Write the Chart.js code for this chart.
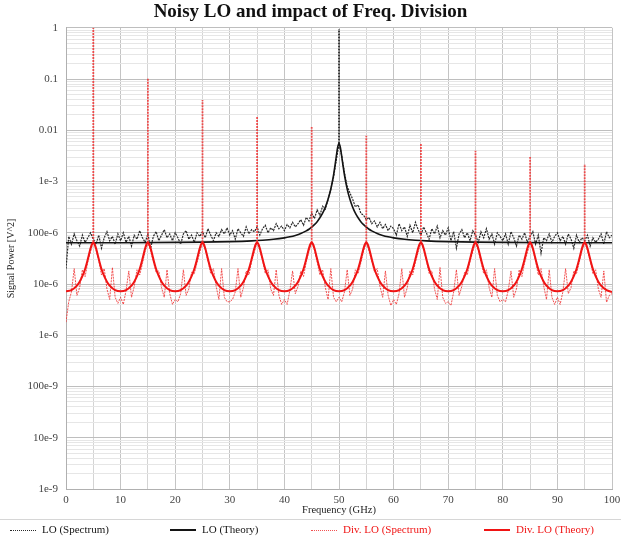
<!DOCTYPE html>
<html>
<head>
<meta charset="utf-8">
<script src="https://cdn.jsdelivr.net/npm/chart.js@4.4.1/dist/chart.umd.min.js"></script>
<style>
  html, body { margin: 0; padding: 0; background: #fff; }
  #wrap { position: relative; width: 621px; height: 537px; }
  #legend {
    position: absolute; left: 0; top: 519px; width: 621px; height: 18px;
    border-top: 1px solid #d6d6d6;
    font-family: "Liberation Serif", "DejaVu Serif", serif; font-size: 11px;
  }
  #legend .item { position: absolute; top: 3px; white-space: nowrap; line-height: 12px; }
  #legend .swatch { display: inline-block; width: 26px; vertical-align: middle; margin-right: 6px; }
</style>
</head>
<body>
<div id="wrap"><canvas id="noiseChart"></canvas><div id="legend"></div></div>
<script>
// sample frequencies of the measured spectra (GHz)
const spectrumFreq = [
  0, 0.5, 1, 1.5, 2, 2.5, 3, 3.5, 4, 4.5,
  5, 5.5, 6, 6.5, 7, 7.5, 8, 8.5, 9, 9.5,
  10, 10.5, 11, 11.5, 12, 12.5, 13, 13.5, 14, 14.5,
  15, 15.5, 16, 16.5, 17, 17.5, 18, 18.5, 19, 19.5,
  20, 20.5, 21, 21.5, 22, 22.5, 23, 23.5, 24, 24.5,
  25, 25.5, 26, 26.5, 27, 27.5, 28, 28.5, 29, 29.5,
  30, 30.5, 31, 31.5, 32, 32.5, 33, 33.5, 34, 34.5,
  35, 35.5, 36, 36.5, 37, 37.5, 38, 38.5, 39, 39.5,
  40, 40.5, 41, 41.5, 42, 42.5, 43, 43.5, 44, 44.5,
  45, 45.5, 46, 46.5, 47, 47.5, 48, 48.5, 49, 49.5,
  50, 50.5, 51, 51.5, 52, 52.5, 53, 53.5, 54, 54.5,
  55, 55.5, 56, 56.5, 57, 57.5, 58, 58.5, 59, 59.5,
  60, 60.5, 61, 61.5, 62, 62.5, 63, 63.5, 64, 64.5,
  65, 65.5, 66, 66.5, 67, 67.5, 68, 68.5, 69, 69.5,
  70, 70.5, 71, 71.5, 72, 72.5, 73, 73.5, 74, 74.5,
  75, 75.5, 76, 76.5, 77, 77.5, 78, 78.5, 79, 79.5,
  80, 80.5, 81, 81.5, 82, 82.5, 83, 83.5, 84, 84.5,
  85, 85.5, 86, 86.5, 87, 87.5, 88, 88.5, 89, 89.5,
  90, 90.5, 91, 91.5, 92, 92.5, 93, 93.5, 94, 94.5,
  95, 95.5, 96, 96.5, 97, 97.5, 98, 98.5, 99, 99.5,
  100
];

// LO (Spectrum) - black dotted
const loSpectrum = [
  2e-5, 8.5e-5, 6e-5, 9.5e-5, 7e-5, 5.5e-5, 9e-5, 6.5e-5, 8e-5, 1e-4,
  7.5e-5, 6e-5, 9e-5, 5e-5, 8e-5, 1.05e-4, 7e-5, 8.5e-5, 6e-5, 9.5e-5,
  7e-5, 1e-4, 6.5e-5, 8.5e-5, 5.5e-5, 9e-5, 7.5e-5, 1.1e-4, 8e-5, 6.5e-5,
  9.5e-5, 5e-5, 8.5e-5, 1.05e-4, 7e-5, 9e-5, 1.15e-4, 8e-5, 9.5e-5, 7e-5,
  1e-4, 8e-5, 6e-5, 9.5e-5, 1.1e-4, 7.5e-5, 9e-5, 6.5e-5, 1e-4, 8.5e-5,
  1.05e-4, 8e-5, 1.2e-4, 9e-5, 7e-5, 1e-4, 8.5e-5, 1.15e-4, 9.5e-5, 1.25e-4,
  9e-5, 1.1e-4, 7.5e-5, 1.2e-4, 1e-4, 8.5e-5, 1.3e-4, 9.5e-5, 1.15e-4, 1.05e-4,
  1.3e-4, 9e-5, 1.2e-4, 1.4e-4, 1e-4, 1.25e-4, 1.1e-4, 1.5e-4, 1.2e-4, 1.35e-4,
  1.1e-4, 1.45e-4, 1.25e-4, 1.6e-4, 1.3e-4, 1.5e-4, 1.8e-4, 1.4e-4, 2e-4, 1.7e-4,
  2.4e-4, 1.9e-4, 2.8e-4, 2.2e-4, 3.3e-4, 2.9e-4, 4.5e-4, 7e-4, 1.2e-3, 2.6e-3,
  5.5e-3, 3.2e-3, 1.5e-3, 8e-4, 6e-4, 4.5e-4, 3.2e-4, 3.5e-4, 2.4e-4, 2.2e-4,
  1.8e-4, 2e-4, 1.5e-4, 1.7e-4, 1.3e-4, 1.6e-4, 1.2e-4, 1.45e-4, 1.1e-4, 1.35e-4,
  1.2e-4, 9e-5, 1.5e-4, 1.1e-4, 1.3e-4, 8.5e-5, 1.4e-4, 1e-4, 1.6e-4, 1.15e-4,
  9e-5, 1.3e-4, 1e-4, 7.5e-5, 1.2e-4, 9.5e-5, 1.35e-4, 8e-5, 1.1e-4, 9e-5,
  1.25e-4, 7e-5, 1.05e-4, 5e-5, 9.5e-5, 1.15e-4, 8e-5, 1e-4, 7e-5, 1.1e-4,
  9e-5, 6.5e-5, 1.05e-4, 8e-5, 1.2e-4, 7.5e-5, 9.5e-5, 6e-5, 1e-4, 8.5e-5,
  7e-5, 9.5e-5, 6e-5, 1.05e-4, 8e-5, 5.5e-5, 9e-5, 7.5e-5, 1e-4, 6.5e-5,
  8.5e-5, 1.05e-4, 6e-5, 9e-5, 4e-5, 8e-5, 7e-5, 9.5e-5, 6.5e-5, 8.5e-5,
  1e-4, 7e-5, 8.5e-5, 6e-5, 9.5e-5, 7.5e-5, 5e-5, 9e-5, 6.5e-5, 8e-5,
  7e-5, 9e-5, 5.5e-5, 8e-5, 6.5e-5, 7.5e-5, 9.5e-5, 6e-5, 1.05e-4, 8e-5,
  9e-5
];

// Div. LO (Spectrum) - red dotted
const divSpectrum = [
  1.8e-6, 4.5e-6, 7e-6, 2e-5, 6e-6, 8.5e-6, 1.9e-5, 1.4e-5, 2.7e-5, 4.3e-5,
  6.6e-5, 4.6e-5, 2.9e-5, 1.5e-5, 2e-5, 8e-6, 5e-6, 2.1e-5, 5.5e-6, 4.2e-6,
  5.5e-6, 4e-6, 7.5e-6, 1.8e-5, 5.5e-6, 9e-6, 1.9e-5, 1.5e-5, 2.5e-5, 4.4e-5,
  6.4e-5, 4.4e-5, 2.7e-5, 1.7e-5, 1.8e-5, 8.5e-6, 5.5e-6, 1.9e-5, 6.5e-6, 4e-6,
  5e-6, 4.5e-6, 6.5e-6, 1.9e-5, 6e-6, 8e-6, 1.7e-5, 1.6e-5, 2.6e-5, 4.1e-5,
  6.5e-5, 4.7e-5, 2.8e-5, 1.6e-5, 2e-5, 9e-6, 5e-6, 2e-5, 5.5e-6, 4.5e-6,
  4.5e-6, 5e-6, 7e-6, 2e-5, 5.5e-6, 8.5e-6, 1.8e-5, 1.5e-5, 2.8e-5, 4.2e-5,
  6.6e-5, 4.5e-5, 2.9e-5, 1.6e-5, 1.9e-5, 8e-6, 6e-6, 1.9e-5, 6e-6, 4e-6,
  5e-6, 4e-6, 7.5e-6, 1.8e-5, 6.5e-6, 9e-6, 1.8e-5, 1.4e-5, 2.7e-5, 4.3e-5,
  6.4e-5, 4.6e-5, 2.7e-5, 1.5e-5, 1.9e-5, 8.5e-6, 5e-6, 2e-5, 5.5e-6, 4.5e-6,
  5.5e-6, 4.5e-6, 7e-6, 1.9e-5, 6e-6, 8e-6, 1.9e-5, 1.6e-5, 2.6e-5, 4.4e-5,
  6.5e-5, 4.4e-5, 2.8e-5, 1.7e-5, 2e-5, 9e-6, 5.5e-6, 1.8e-5, 6e-6, 3.8e-6,
  5e-6, 4e-6, 6.5e-6, 2e-5, 5.5e-6, 8.5e-6, 1.8e-5, 1.5e-5, 2.7e-5, 4.2e-5,
  6.6e-5, 4.6e-5, 2.9e-5, 1.6e-5, 1.8e-5, 8e-6, 5e-6, 2.1e-5, 5.5e-6, 4.2e-6,
  4.5e-6, 3.8e-6, 7e-6, 1.9e-5, 6e-6, 9e-6, 1.7e-5, 1.5e-5, 2.8e-5, 4.3e-5,
  6.5e-5, 4.5e-5, 2.7e-5, 1.6e-5, 1.9e-5, 8.5e-6, 5.5e-6, 2e-5, 6e-6, 4.5e-6,
  5e-6, 4.5e-6, 7.5e-6, 1.8e-5, 5.5e-6, 8e-6, 1.9e-5, 1.4e-5, 2.6e-5, 4.1e-5,
  6.4e-5, 4.7e-5, 2.8e-5, 1.5e-5, 2e-5, 9e-6, 5e-6, 1.9e-5, 5.5e-6, 4e-6,
  5.5e-6, 4e-6, 7e-6, 2e-5, 6.5e-6, 8.5e-6, 1.8e-5, 1.6e-5, 2.7e-5, 4.4e-5,
  6.5e-5, 4.5e-5, 2.9e-5, 1.6e-5, 1.9e-5, 8e-6, 5.5e-6, 1.8e-5, 4.4e-6, 6e-6,
  6.5e-6
];

// carrier spikes sitting on the spectra
const loSpikeFreq = [50];
const loSpikeTop = [0.95];
const divSpikeFreq = [5, 15, 25, 35, 45, 55, 65, 75, 85, 95];
const divSpikeTop = [1.0, 0.106, 0.039, 0.019, 0.0116, 0.0078, 0.0055, 0.004, 0.003, 0.0022];

// LO (Theory) - black solid
const loTheoryFreq = [
  0, 10, 20, 25, 30, 34, 36, 38, 40, 41, 42, 43, 44, 44.5, 45, 45.5, 46, 46.5, 47, 47.5,
  48, 48.5, 49, 49.25, 49.5, 49.75, 50,
  50.25, 50.5, 50.75, 51, 51.5, 52, 52.5, 53, 53.5, 54, 54.5, 55, 55.5, 56, 57, 58, 59,
  60, 62, 64, 66, 70, 75, 80, 90, 100
];
const loTheory = [
  6.37e-5, 6.4e-5, 6.49e-5, 6.57e-5, 6.72e-5, 6.95e-5, 7.15e-5, 7.45e-5, 7.96e-5, 8.35e-5,
  8.89e-5, 9.67e-5, 1.09e-4, 1.17e-4, 1.29e-4, 1.44e-4, 1.65e-4, 1.96e-4, 2.42e-4, 3.17e-4,
  4.5e-4, 7.15e-4, 1.34e-3, 1.99e-3, 3.08e-3, 4.62e-3, 5.56e-3,
  4.62e-3, 3.08e-3, 1.99e-3, 1.34e-3, 7.15e-4, 4.5e-4, 3.17e-4, 2.42e-4, 1.96e-4, 1.65e-4,
  1.44e-4, 1.29e-4, 1.17e-4, 1.09e-4, 9.67e-5, 8.89e-5, 8.35e-5,
  7.96e-5, 7.45e-5, 7.15e-5, 6.95e-5, 6.72e-5, 6.57e-5, 6.49e-5, 6.4e-5, 6.37e-5
];

// Div. LO (Theory) - red solid
const divTheoryFreq = [
  0, 1, 2, 2.5, 3, 3.5, 4, 4.25, 4.5, 4.75, 5, 5.25, 5.5, 5.75, 6, 6.5, 7, 7.5, 8, 9,
  10, 11, 12, 12.5, 13, 13.5, 14, 14.25, 14.5, 14.75, 15, 15.25, 15.5, 15.75, 16, 16.5, 17, 17.5, 18, 19,
  20, 21, 22, 22.5, 23, 23.5, 24, 24.25, 24.5, 24.75, 25, 25.25, 25.5, 25.75, 26, 26.5, 27, 27.5, 28, 29,
  30, 31, 32, 32.5, 33, 33.5, 34, 34.25, 34.5, 34.75, 35, 35.25, 35.5, 35.75, 36, 36.5, 37, 37.5, 38, 39,
  40, 41, 42, 42.5, 43, 43.5, 44, 44.25, 44.5, 44.75, 45, 45.25, 45.5, 45.75, 46, 46.5, 47, 47.5, 48, 49,
  50, 51, 52, 52.5, 53, 53.5, 54, 54.25, 54.5, 54.75, 55, 55.25, 55.5, 55.75, 56, 56.5, 57, 57.5, 58, 59,
  60, 61, 62, 62.5, 63, 63.5, 64, 64.25, 64.5, 64.75, 65, 65.25, 65.5, 65.75, 66, 66.5, 67, 67.5, 68, 69,
  70, 71, 72, 72.5, 73, 73.5, 74, 74.25, 74.5, 74.75, 75, 75.25, 75.5, 75.75, 76, 76.5, 77, 77.5, 78, 79,
  80, 81, 82, 82.5, 83, 83.5, 84, 84.25, 84.5, 84.75, 85, 85.25, 85.5, 85.75, 86, 86.5, 87, 87.5, 88, 89,
  90, 91, 92, 92.5, 93, 93.5, 94, 94.25, 94.5, 94.75, 95, 95.25, 95.5, 95.75, 96, 96.5, 97, 97.5, 98, 99,
  100
];
const divTheory = [
  7.2e-6, 7.6e-6, 9.3e-6, 1.11e-5, 1.42e-5, 1.97e-5, 3.07e-5, 3.93e-5, 4.97e-5, 5.96e-5, 6.44e-5, 5.96e-5, 4.97e-5, 3.93e-5, 3.07e-5, 1.97e-5, 1.42e-5, 1.11e-5, 9.3e-6, 7.6e-6,
  7.2e-6, 7.6e-6, 9.3e-6, 1.11e-5, 1.42e-5, 1.97e-5, 3.07e-5, 3.93e-5, 4.97e-5, 5.96e-5, 6.44e-5, 5.96e-5, 4.97e-5, 3.93e-5, 3.07e-5, 1.97e-5, 1.42e-5, 1.11e-5, 9.3e-6, 7.6e-6,
  7.2e-6, 7.6e-6, 9.3e-6, 1.11e-5, 1.42e-5, 1.97e-5, 3.07e-5, 3.93e-5, 4.97e-5, 5.96e-5, 6.44e-5, 5.96e-5, 4.97e-5, 3.93e-5, 3.07e-5, 1.97e-5, 1.42e-5, 1.11e-5, 9.3e-6, 7.6e-6,
  7.2e-6, 7.6e-6, 9.3e-6, 1.11e-5, 1.42e-5, 1.97e-5, 3.07e-5, 3.93e-5, 4.97e-5, 5.96e-5, 6.44e-5, 5.96e-5, 4.97e-5, 3.93e-5, 3.07e-5, 1.97e-5, 1.42e-5, 1.11e-5, 9.3e-6, 7.6e-6,
  7.2e-6, 7.6e-6, 9.3e-6, 1.11e-5, 1.42e-5, 1.97e-5, 3.07e-5, 3.93e-5, 4.97e-5, 5.96e-5, 6.44e-5, 5.96e-5, 4.97e-5, 3.93e-5, 3.07e-5, 1.97e-5, 1.42e-5, 1.11e-5, 9.3e-6, 7.6e-6,
  7.2e-6, 7.6e-6, 9.3e-6, 1.11e-5, 1.42e-5, 1.97e-5, 3.07e-5, 3.93e-5, 4.97e-5, 5.96e-5, 6.44e-5, 5.96e-5, 4.97e-5, 3.93e-5, 3.07e-5, 1.97e-5, 1.42e-5, 1.11e-5, 9.3e-6, 7.6e-6,
  7.2e-6, 7.6e-6, 9.3e-6, 1.11e-5, 1.42e-5, 1.97e-5, 3.07e-5, 3.93e-5, 4.97e-5, 5.96e-5, 6.44e-5, 5.96e-5, 4.97e-5, 3.93e-5, 3.07e-5, 1.97e-5, 1.42e-5, 1.11e-5, 9.3e-6, 7.6e-6,
  7.2e-6, 7.6e-6, 9.3e-6, 1.11e-5, 1.42e-5, 1.97e-5, 3.07e-5, 3.93e-5, 4.97e-5, 5.96e-5, 6.44e-5, 5.96e-5, 4.97e-5, 3.93e-5, 3.07e-5, 1.97e-5, 1.42e-5, 1.11e-5, 9.3e-6, 7.6e-6,
  7.2e-6, 7.6e-6, 9.3e-6, 1.11e-5, 1.42e-5, 1.97e-5, 3.07e-5, 3.93e-5, 4.97e-5, 5.96e-5, 6.44e-5, 5.96e-5, 4.97e-5, 3.93e-5, 3.07e-5, 1.97e-5, 1.42e-5, 1.11e-5, 9.3e-6, 7.6e-6,
  7.2e-6, 7.6e-6, 9.3e-6, 1.11e-5, 1.42e-5, 1.97e-5, 3.07e-5, 3.93e-5, 4.97e-5, 5.96e-5, 6.44e-5, 5.96e-5, 4.97e-5, 3.93e-5, 3.07e-5, 1.97e-5, 1.42e-5, 1.11e-5, 9.3e-6, 7.6e-6,
  7.0e-6
];

// y axis decades and their labels
const powerTicks = [1e-9, 1e-8, 1e-7, 1e-6, 1e-5, 1e-4, 1e-3, 0.01, 0.1, 1];
const powerTickLabels = ['1e-9', '10e-9', '100e-9', '1e-6', '10e-6', '100e-6', '1e-3', '0.01', '0.1', '1'];

const SERIF = '"Liberation Serif", "DejaVu Serif", serif';
const BLACK = '#141414';
const RED = '#f01414';
const PINK = 'rgba(240,50,50,0.85)';

function zip(xs, ys) {
    return xs.map((x, i) => ({ x: x, y: ys[i] }));
}

// vertical spike segments, starting from the spectrum value at that frequency
function spikes(freqs, tops, spectrum) {
    const pts = [];
    freqs.forEach((f, i) => {
        const base = spectrum[spectrumFreq.indexOf(f)];
        pts.push({ x: f, y: base }, { x: f, y: tops[i] }, { x: f, y: null });
    });
    return pts;
}

// index 0 is drawn on top in Chart.js
const datasets = [
    { label: 'Div. LO (Theory)', data: zip(divTheoryFreq, divTheory), borderColor: RED, borderWidth: 2,
      cubicInterpolationMode: 'monotone', legendColor: RED },
    { label: 'Div. LO (Spectrum)', data: zip(spectrumFreq, divSpectrum), borderColor: PINK, borderWidth: 1,
      borderDash: [2, 1], legendColor: RED },
    { label: 'div spikes', data: spikes(divSpikeFreq, divSpikeTop, divSpectrum), borderColor: PINK, borderWidth: 1.8,
      borderDash: [2, 1], spanGaps: false },
    { label: 'LO (Theory)', data: zip(loTheoryFreq, loTheory), borderColor: BLACK, borderWidth: 1.6,
      cubicInterpolationMode: 'monotone', legendColor: BLACK },
    { label: 'LO (Spectrum)', data: zip(spectrumFreq, loSpectrum), borderColor: '#2a2a2a', borderWidth: 1.2,
      borderDash: [2, 1], legendColor: BLACK },
    { label: 'lo spike', data: spikes(loSpikeFreq, loSpikeTop, loSpectrum), borderColor: '#2a2a2a', borderWidth: 1.8,
      borderDash: [2, 1], spanGaps: false }
];
const legendOrder = [4, 3, 1, 0];
const legendLeft = [10, 170, 311, 484];

new Chart(document.getElementById('noiseChart'), {
    type: 'line',
    data: { datasets: datasets },
    options: {
        responsive: true,
        maintainAspectRatio: false,
        animation: false,
        elements: { point: { radius: 0 }, line: { tension: 0 } },
        layout: { padding: { left: 0, right: 0, top: 0, bottom: 16 } },
        scales: {
            x: {
                type: 'linear',
                min: 0,
                max: 100,
                afterFit: scale => { scale.height = 32; scale.paddingRight = 9; },
                ticks: {
                    stepSize: 5,
                    autoSkip: false,
                    maxRotation: 0,
                    color: '#444',
                    font: { family: SERIF, size: 11 },
                    padding: 5,
                    callback: v => (v % 10 === 0 ? String(v) : '')
                },
                grid: {
                    drawTicks: false,
                    color: ctx => (ctx.tick && ctx.tick.value % 10 === 0 ? '#c4c4c4' : '#d4d4d4')
                },
                border: { color: '#b0b0b0' },
                title: { display: true, text: 'Frequency (GHz)', color: '#222', font: { family: SERIF, size: 10.5 }, padding: { top: 0, bottom: 4 } }
            },
            y: {
                type: 'logarithmic',
                min: 1e-9,
                max: 1,
                afterBuildTicks: scale => {
                    const ticks = [];
                    powerTicks.forEach((d, i) => {
                        if (i === powerTicks.length - 1) {
                            ticks.push({ value: d, major: true });
                            return;
                        }
                        for (let m = 1; m <= 9; m++) ticks.push({ value: d * m, major: m === 1 });
                    });
                    scale.ticks = ticks;
                },
                afterFit: scale => { scale.width = 66; },
                ticks: {
                    autoSkip: false,
                    color: '#444',
                    font: { family: SERIF, size: 11 },
                    padding: 8,
                    callback: (v, i, ticks) => (ticks[i].major ? powerTickLabels[powerTicks.indexOf(v)] : '')
                },
                grid: {
                    drawTicks: false,
                    color: ctx => (ctx.tick && ctx.tick.major ? '#bebebe' : '#e6e6e6')
                },
                border: { color: '#b0b0b0' },
                title: { display: true, text: 'Signal Power [V^2]', color: '#222', font: { family: SERIF, size: 10 }, padding: { top: 5, bottom: 0 } }
            }
        },
        plugins: {
            title: {
                display: true,
                text: 'Noisy LO and impact of Freq. Division',
                color: '#111',
                font: { family: SERIF, size: 19, weight: 'bold' },
                padding: { top: 1, bottom: 4 }
            },
            legend: { display: false },
            tooltip: { enabled: false }
        }
    }
});

// legend row under the x axis title
const legendBox = document.getElementById('legend');
legendOrder.forEach((dsIndex, k) => {
    const ds = datasets[dsIndex];
    const item = document.createElement('div');
    item.className = 'item';
    item.style.left = legendLeft[k] + 'px';
    item.style.color = ds.legendColor;
    const swatch = document.createElement('span');
    swatch.className = 'swatch';
    swatch.style.borderTop = ds.borderDash ? '1px dotted ' + ds.borderColor : '2px solid ' + ds.borderColor;
    item.appendChild(swatch);
    item.appendChild(document.createTextNode(ds.label));
    legendBox.appendChild(item);
});
</script>
</body>
</html>
